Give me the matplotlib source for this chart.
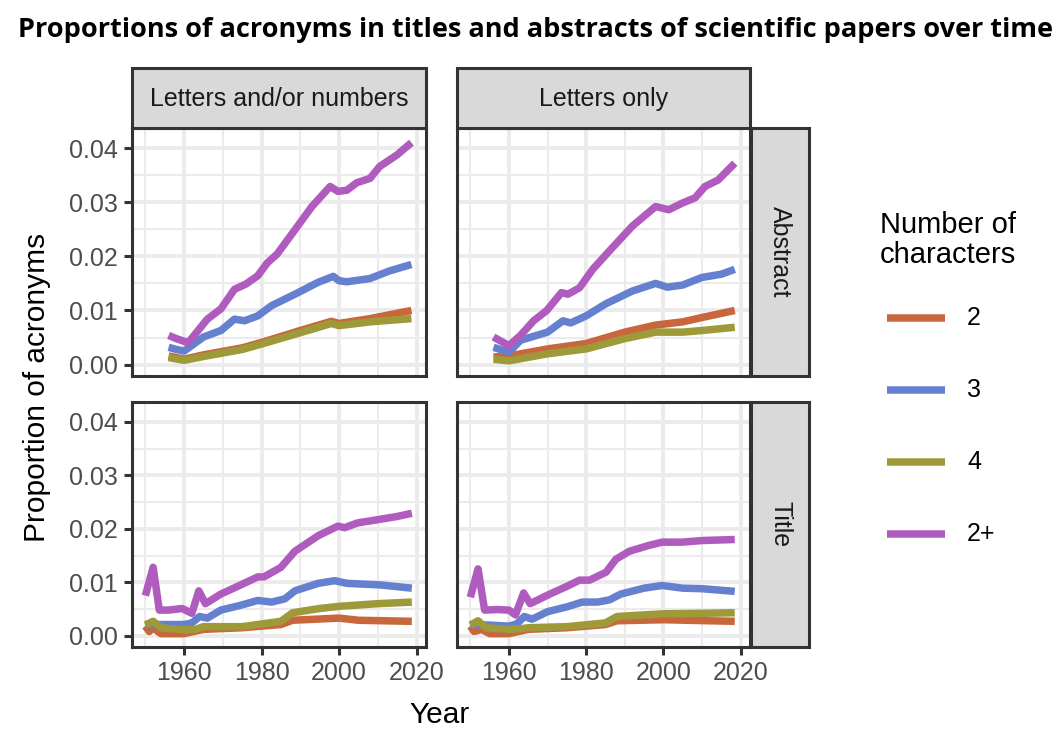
import matplotlib
matplotlib.use("Agg")
import matplotlib.pyplot as plt
from matplotlib.patches import Rectangle

plt.rcParams['font.family'] = ['Liberation Sans', 'DejaVu Sans']

# series keys and colours
groups = ["2", "3", "4", "2+"]
colors = {"2": "#C9673C", "3": "#6680D0", "4": "#9E9A3A", "2+": "#B05CBF"}

col_labels = ["Letters and/or numbers", "Letters only"]
row_labels = ["Abstract", "Title"]

# ---- Abstract, letters and/or numbers
abs_any_yr = {
    "2+": [1956, 1958, 1960, 1961, 1966, 1969.5, 1973, 1976, 1979, 1981.5, 1984, 1988, 1993, 1997.7, 1999.7, 2002, 2004.6, 2008, 2010.5, 2014.9, 2018.7],
    "3": [1956, 1958, 1960, 1965, 1969.5, 1973, 1975.6, 1979, 1982.6, 1988.6, 1994.6, 1998.5, 2000, 2002, 2008, 2013, 2018.7],
    "2": [1956, 1960, 1965, 1975, 1980, 1990, 1998, 2000, 2008, 2018.7],
    "4": [1956, 1960, 1965, 1975, 1980, 1990, 1998, 2000, 2008, 2018.7],
}
abs_any_val = {
    "2+": [0.0054, 0.0048, 0.0043, 0.0040, 0.0084, 0.0103, 0.0139, 0.0149, 0.0164, 0.0188, 0.0204, 0.0243, 0.0292, 0.0329, 0.0320, 0.0322, 0.0336, 0.0344, 0.0366, 0.0387, 0.0410],
    "3": [0.0032, 0.0028, 0.0025, 0.0051, 0.0063, 0.0084, 0.0081, 0.0090, 0.0109, 0.0130, 0.0152, 0.0163, 0.0155, 0.0153, 0.0159, 0.0173, 0.0185],
    "2": [0.0016, 0.0010, 0.0018, 0.0031, 0.0041, 0.0063, 0.0080, 0.0076, 0.0085, 0.0100],
    "4": [0.0013, 0.0008, 0.0015, 0.0028, 0.0038, 0.0059, 0.0076, 0.0072, 0.0079, 0.0085],
}

# ---- Abstract, letters only
abs_let_yr = {
    "2+": [1956, 1960, 1963, 1966.4, 1969.8, 1973.6, 1975.3, 1978.3, 1981.7, 1986.8, 1992, 1998, 2001.4, 2004.8, 2008.2, 2010.8, 2014.2, 2018.5],
    "3": [1956, 1960, 1963, 1970, 1974, 1976, 1980, 1985, 1992, 1998, 2001, 2005, 2010, 2015, 2018.5],
    "2": [1956, 1960, 1970, 1980, 1990, 1998, 2005, 2010, 2018.5],
    "4": [1956, 1960, 1970, 1980, 1990, 1998, 2005, 2010, 2018.5],
}
abs_let_val = {
    "2+": [0.0051, 0.0035, 0.0054, 0.0081, 0.0100, 0.0133, 0.0130, 0.0142, 0.0176, 0.0216, 0.0256, 0.0292, 0.0286, 0.0298, 0.0308, 0.0329, 0.0341, 0.0372],
    "3": [0.0032, 0.0023, 0.0045, 0.0060, 0.0081, 0.0077, 0.0090, 0.0112, 0.0136, 0.0150, 0.0143, 0.0147, 0.0161, 0.0167, 0.0176],
    "2": [0.0014, 0.0016, 0.0029, 0.0039, 0.0060, 0.0073, 0.0079, 0.0087, 0.0100],
    "4": [0.0010, 0.0007, 0.0020, 0.0029, 0.0048, 0.0060, 0.0060, 0.0063, 0.0069],
}

# ---- Title, letters and/or numbers
tit_any_yr = {
    "2+": [1950, 1952, 1953.6, 1956, 1959.5, 1962, 1963.8, 1965.5, 1969.5, 1974.6, 1979, 1980.6, 1985, 1988.6, 1994.6, 1999.7, 2001.4, 2004.8, 2010, 2015, 2018.8],
    "3": [1950, 1953, 1960, 1962, 1964, 1966, 1969.5, 1974.6, 1979, 1982.6, 1986, 1988.6, 1994.6, 1998.9, 2002, 2010.7, 2018.8],
    "2": [1950, 1951, 1952, 1954, 1960, 1965, 1975, 1985, 1988, 2000, 2005, 2018.8],
    "4": [1950, 1952, 1954, 1960, 1963, 1965, 1975, 1985, 1988, 1995, 2000, 2010, 2018.8],
}
tit_any_val = {
    "2+": [0.0075, 0.0128, 0.0048, 0.0048, 0.0051, 0.0042, 0.0084, 0.0060, 0.0078, 0.0095, 0.0110, 0.0110, 0.0128, 0.0158, 0.0187, 0.0205, 0.0202, 0.0211, 0.0217, 0.0223, 0.0229],
    "3": [0.0021, 0.0021, 0.0021, 0.0024, 0.0036, 0.0033, 0.0048, 0.0057, 0.0066, 0.0063, 0.0069, 0.0084, 0.0098, 0.0103, 0.0098, 0.0095, 0.0089],
    "2": [0.0018, 0.0008, 0.0015, 0.0004, 0.0004, 0.0012, 0.0015, 0.0021, 0.0029, 0.0033, 0.0029, 0.0027],
    "4": [0.0020, 0.0027, 0.0015, 0.0011, 0.0012, 0.0017, 0.0017, 0.0027, 0.0043, 0.0051, 0.0055, 0.0060, 0.0063],
}

# ---- Title, letters only
tit_let_yr = {
    "2+": [1950, 1952, 1953.7, 1957, 1960, 1961.7, 1963.8, 1965.5, 1970.6, 1974.9, 1978.3, 1980.9, 1985.2, 1987.7, 1991.2, 1996.3, 1999.7, 2004.8, 2010, 2018.5],
    "3": [1950, 1955, 1960, 1962, 1964, 1966, 1970, 1975, 1979, 1983, 1986, 1989, 1995, 1999.7, 2005, 2010, 2018.5],
    "2": [1950, 1951, 1953, 1955, 1960, 1965, 1975, 1985, 1988, 2000, 2018.5],
    "4": [1950, 1952, 1954, 1960, 1963, 1965, 1975, 1985, 1988, 1995, 2000, 2010, 2018.5],
}
tit_let_val = {
    "2+": [0.0072, 0.0125, 0.0048, 0.0049, 0.0048, 0.0039, 0.0080, 0.0060, 0.0078, 0.0092, 0.0104, 0.0104, 0.0119, 0.0143, 0.0158, 0.0169, 0.0175, 0.0175, 0.0178, 0.0180],
    "3": [0.0021, 0.0020, 0.0018, 0.0022, 0.0036, 0.0031, 0.0045, 0.0054, 0.0063, 0.0063, 0.0067, 0.0078, 0.0089, 0.0094, 0.0089, 0.0088, 0.0083],
    "2": [0.0018, 0.0008, 0.0012, 0.0004, 0.0004, 0.0012, 0.0015, 0.0021, 0.0028, 0.0030, 0.0027],
    "4": [0.0020, 0.0028, 0.0015, 0.0012, 0.0013, 0.0015, 0.0017, 0.0024, 0.0036, 0.0039, 0.0041, 0.0042, 0.0043],
}

panels = [[(abs_any_yr, abs_any_val), (abs_let_yr, abs_let_val)],
          [(tit_any_yr, tit_any_val), (tit_let_yr, tit_let_val)]]

x_ticks = [1960, 1980, 2000, 2020]
y_ticks = [0.00, 0.01, 0.02, 0.03, 0.04]

W, H = 1062, 737
fig = plt.figure(figsize=(W / 100, H / 100), dpi=100)


def fx(px):
    return px / W


def fy(py):
    return 1 - py / H


dark = "#333333"
grid_c = "#EBEBEB"
strip_c = "#D9D9D9"
LW = 5.4

col_x = [(132, 426), (457, 750)]
row_y = [(128, 376), (402, 647)]

for r in range(2):
    for c in range(2):
        x0, x1 = col_x[c]
        y0, y1 = row_y[r]
        ax = fig.add_axes([fx(x0), fy(y1), fx(x1) - fx(x0), fy(y0) - fy(y1)])
        yrs, vals = panels[r][c]
        for g in groups:
            ax.plot(yrs[g], vals[g], color=colors[g], lw=LW, solid_capstyle="butt",
                    solid_joinstyle="round", zorder=3)
        ax.set_xlim(1946.55, 2022.45)
        ax.set_ylim(-0.0021, 0.0437)
        ax.set_xticks(x_ticks)
        ax.set_yticks(y_ticks)
        ax.set_xticks([1950, 1970, 1990, 2010], minor=True)
        ax.set_yticks([0.005, 0.015, 0.025, 0.035], minor=True)
        ax.grid(which="major", color=grid_c, lw=2.8, zorder=0)
        ax.grid(which="minor", color=grid_c, lw=1.5, zorder=0)
        ax.set_axisbelow(True)
        ax.tick_params(which="minor", length=0)
        ax.tick_params(which="major", length=6, width=2.2, color=dark,
                       labelsize=18, labelcolor="#4D4D4D", pad=4)
        if c == 0:
            ax.set_yticklabels(["0.00", "0.01", "0.02", "0.03", "0.04"])
        else:
            ax.tick_params(axis="y", length=0, labelleft=False)
        if r == 1:
            ax.set_xticklabels([str(t) for t in x_ticks])
        else:
            ax.tick_params(axis="x", length=0, labelbottom=False)
        for s in ax.spines.values():
            s.set_color(dark)
            s.set_linewidth(2.2)

# column strips
for c in range(2):
    x0, x1 = col_x[c]
    fig.patches.append(Rectangle((fx(x0), fy(128)), fx(x1) - fx(x0), fy(68) - fy(128),
                                 transform=fig.transFigure, facecolor=strip_c,
                                 edgecolor=dark, lw=2.2, zorder=1))
    fig.text(fx((x0 + x1) / 2), fy(99), col_labels[c], ha="center", va="center",
             fontsize=18, color="#1A1A1A")

# row strips
for r in range(2):
    y0, y1 = row_y[r]
    fig.patches.append(Rectangle((fx(751), fy(y1)), fx(809) - fx(751), fy(y0) - fy(y1),
                                 transform=fig.transFigure, facecolor=strip_c,
                                 edgecolor=dark, lw=2.2, zorder=1))
    fig.text(fx(780), fy((y0 + y1) / 2), row_labels[r], ha="center", va="center",
             rotation=-90, fontsize=18, color="#1A1A1A")

# axis titles
fig.text(fx(440), fy(715), "Year", ha="center", va="center", fontsize=21.5)
fig.text(fx(37), fy(387), "Proportion of acronyms", ha="center", va="center",
         rotation=90, fontsize=21.5)

# title
fig.text(fx(536), fy(30), "Proportions of acronyms in titles and abstracts of scientific papers over time",
         ha="center", va="center", fontsize=19.5, fontweight="bold", family=["Open Sans", "DejaVu Sans"])

# legend
fig.text(fx(880), fy(240), "Number of\ncharacters", ha="left", va="center",
         fontsize=21, linespacing=1.05)
key_y = [318, 390, 462, 534]
for g, ky in zip(groups, key_y):
    fig.add_artist(plt.Line2D([fx(887), fx(945)], [fy(ky), fy(ky)], color=colors[g],
                              lw=LW, solid_capstyle="butt"))
    fig.text(fx(967), fy(ky), g, ha="left", va="center", fontsize=18)

fig.savefig("out.png", dpi=100)
